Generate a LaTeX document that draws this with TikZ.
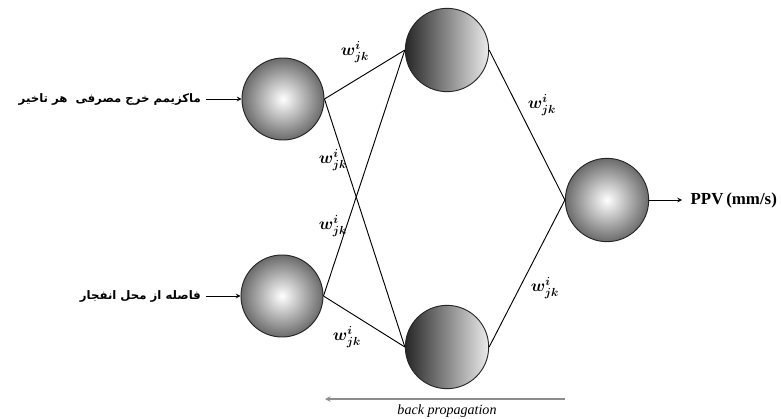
\documentclass[tikz,border=0pt]{standalone}
\usepackage{fontspec}
\setmainfont{Liberation Serif}
\newfontfamily\arabicfont[Script=Arabic]{DejaVu Sans}
\TeXXeTstate=1
\begin{document}
\begin{tikzpicture}[x=0.03cm, y=-0.03cm, >=stealth, line width=0.8pt,
  ball/.style={circle, draw=black!85, minimum size=2.46cm, inner sep=0pt, inner color=white, outer color=black!58},
  hball/.style={circle, draw=black!85, minimum size=2.5cm, inner sep=0pt, left color=black!85, right color=black!8},
  wlabel/.style={font=\Large\boldmath},
  inlabel/.style={anchor=east, inner sep=4pt, font=\arabicfont\bfseries}]
\useasboundingbox (0,0) rectangle (781,418);
\node[ball] (in1) at (283,99) {};
\node[ball] (in2) at (282,296) {};
\node[hball] (h1) at (447,50) {};
\node[hball] (h2) at (447,347) {};
\node[ball, minimum size=2.5cm] (out) at (607,200) {};
\node[inlabel] (l1) at (206,99) {\beginR ماکزیمم خرج مصرفی \ هر تاخیر\endR};
\node[inlabel] (l2) at (206,296) {\beginR فاصله از محل انفجار\endR};
\node[anchor=west, inner sep=7pt, font=\Large\bfseries] (ppv) at (682,200) {PPV\,(mm/s)};
\draw[->] (l1) -- (in1);
\draw[->] (l2) -- (in2);
\draw[->] (out) -- (ppv);
\draw (in1.east) -- (h1.west);
\draw (in1.east) -- (h2.west);
\draw (in2.east) -- (h1.west);
\draw (in2.east) -- (h2.west);
\draw (h1.east) -- (out.west);
\draw (h2.east) -- (out.west);
\node[wlabel] (w1) at (355,52) {$w^{i}_{jk}$};
\node[wlabel] (w2) at (333,160) {$w^{i}_{jk}$};
\node[wlabel] (w3) at (333,226) {$w^{i}_{jk}$};
\node[wlabel] (w4) at (347,337) {$w^{i}_{jk}$};
\node[wlabel] (w5) at (542,105) {$w^{i}_{jk}$};
\node[wlabel] (w6) at (545,288) {$w^{i}_{jk}$};
\coordinate (bpR) at (565,399);
\coordinate (bpL) at (325,399);
\draw[->, black!45, line width=1.1pt] (bpR) -- (bpL);
\node[font=\large\itshape] (bp) at (447,411) {back propagation};
\end{tikzpicture}
\end{document}
